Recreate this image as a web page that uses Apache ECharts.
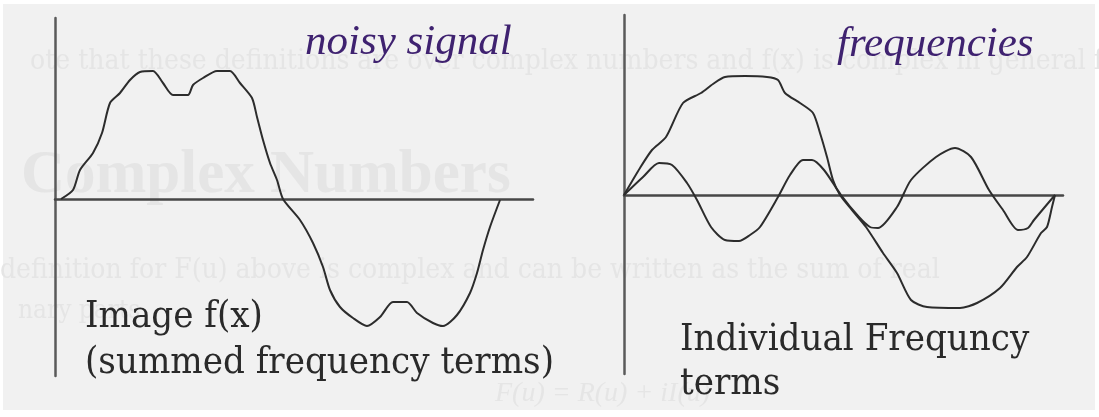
<!DOCTYPE html>
<html>
<head>
<meta charset="utf-8">
<script src="https://cdn.jsdelivr.net/npm/echarts@6/dist/echarts.min.js"></script>
<style>
  html, body { margin: 0; padding: 0; background: #ffffff; }
  #chart { width: 1099px; height: 417px; }
</style>
</head>
<body>
<div id="chart"></div>
<script>
// summed signal (left panel), x = position along the axis, y = amplitude
const summed_signal = [
    [6, 0], [18, 9], [25, 29], [38, 46], [47, 66], [55, 96], [65, 106], [75, 119],
    [85, 127], [98, 128], [108, 116], [118, 104], [133, 104], [138, 114], [148, 121],
    [162, 128], [175, 128], [185, 116], [197, 101], [202, 82], [208, 59], [215, 36],
    [222, 19], [228, 0], [245, -21], [258, -44], [268, -68], [275, -91], [285, -108],
    [298, -119], [312, -127], [325, -118], [338, -103], [352, -103], [362, -114],
    [378, -124], [388, -127], [402, -116], [415, -94], [422, -74], [428, -51],
    [435, -28], [445, -1]
];

// individual frequency terms (right panel)
const low_frequency = [
    [0, 0], [16, 27], [28, 45], [42, 58], [59, 92], [77, 102], [89, 111], [101, 118],
    [121, 119], [143, 118], [154, 115], [161, 102], [176, 92], [189, 82], [196, 62],
    [203, 38], [209, 15], [216, 0], [228, -15], [242, -32], [259, -58], [273, -78],
    [287, -105], [303, -112], [336, -113], [353, -108], [376, -93], [393, -72],
    [403, -62], [417, -38], [423, -32], [428, -12], [431, 0]
];
const high_frequency = [
    [0, 0], [19, 18], [35, 32], [48, 30], [63, 12], [73, -5], [87, -32], [101, -45],
    [115, -46], [126, -40], [136, -32], [154, -2], [166, 20], [179, 35], [188, 35],
    [200, 25], [217, 0], [235, -22], [246, -32], [254, -33], [273, -12], [287, 15],
    [312, 38], [331, 47], [347, 38], [365, 5], [379, -15], [394, -35], [404, -33],
    [410, -25], [431, 0]
];

// texts
const titles = ['noisy signal', 'frequencies'];
const captions_left = ['Image f(x)', '(summed frequency terms)'];
const captions_right = ['Individual Frequncy', 'terms'];
// faint text showing through the scanned page
const ghost_lines = [
    'ote that these definitions are over complex numbers and f(x) is complex in general for',
    'Complex Numbers',
    'definition for F(u) above is complex and can be written as the sum of real',
    'nary parts',
    'F(u) = R(u) + iI(u)'
];

const axis_color = '#5a5a5a';
const curve_color = '#2c2c2c';
const purple = '#3f2270';
const caption_color = '#2a2a2a';
const ghost_color = '#e5e5e5';
const caption_font = '"DejaVu Serif Condensed", "DejaVu Serif", serif';

let chart = echarts.init(document.getElementById('chart'), null, {renderer: 'canvas'});

function fnc_axis_x(index, max){
    return {
        type: 'value', gridIndex: index, min: 0, max: max,
        axisLine: {show: true, onZero: true, lineStyle: {color: '#474747', width: 2.5}},
        axisTick: {show: false}, axisLabel: {show: false}, splitLine: {show: false}
    };
}

function fnc_axis_y(index, min, max){
    return {
        type: 'value', gridIndex: index, min: min, max: max,
        axisLine: {show: true, lineStyle: {color: axis_color, width: 2.5}},
        axisTick: {show: false}, axisLabel: {show: false}, splitLine: {show: false}
    };
}

function fnc_curve(index, data){
    return {
        type: 'line', xAxisIndex: index, yAxisIndex: index, data: data,
        showSymbol: false, smooth: 0.25, animation: false,
        lineStyle: {color: curve_color, width: 2}
    };
}

function fnc_text(text, x, y, font, color, z){
    return {
        type: 'text', left: x, top: y, z: z, silent: true,
        style: {text: text, fill: color, font: font}
    };
}

function fnc_ghost(text, x, y, font){
    let g = fnc_text(text, x, y, font, ghost_color, -5);
    g.style.shadowBlur = 6;
    g.style.shadowColor = ghost_color;
    return g;
}

const options = {
    backgroundColor: '#ffffff',
    animation: false,
    grid: [
        {left: 55, top: 18, width: 478, height: 358},
        {left: 624, top: 15, width: 439, height: 359}
    ],
    xAxis: [fnc_axis_x(0, 478), fnc_axis_x(1, 439)],
    yAxis: [fnc_axis_y(0, -177, 181), fnc_axis_y(1, -179, 180)],
    series: [
        fnc_curve(0, summed_signal),
        fnc_curve(1, low_frequency),
        fnc_curve(1, high_frequency)
    ],
    graphic: [
        {type: 'rect', z: -10, silent: true, shape: {x: 3, y: 4, width: 1092, height: 406}, style: {fill: '#f1f1f1'}},
        fnc_ghost(ghost_lines[0], 30, 48, '28px ' + caption_font),
        fnc_ghost(ghost_lines[1], 21, 146, 'bold 61px "Liberation Serif", serif'),
        fnc_ghost(ghost_lines[2], 0, 257, '28px ' + caption_font),
        fnc_ghost(ghost_lines[3], 18, 298, '26px ' + caption_font),
        fnc_ghost(ghost_lines[4], 495, 380, 'italic 28px "Liberation Serif", serif'),
        fnc_text(titles[0], 305, 21, 'italic 43px "Liberation Serif", serif', purple, 10),
        fnc_text(titles[1], 837, 23, 'italic 43px "Liberation Serif", serif', purple, 10),
        fnc_text(captions_left[0], 85, 298, '38px ' + caption_font, caption_color, 10),
        fnc_text(captions_left[1], 85, 344, '38px ' + caption_font, caption_color, 10),
        fnc_text(captions_right[0], 680, 321, '38px ' + caption_font, caption_color, 10),
        fnc_text(captions_right[1], 680, 365, '38px ' + caption_font, caption_color, 10)
    ]
};

chart.setOption(options);
</script>
</body>
</html>
